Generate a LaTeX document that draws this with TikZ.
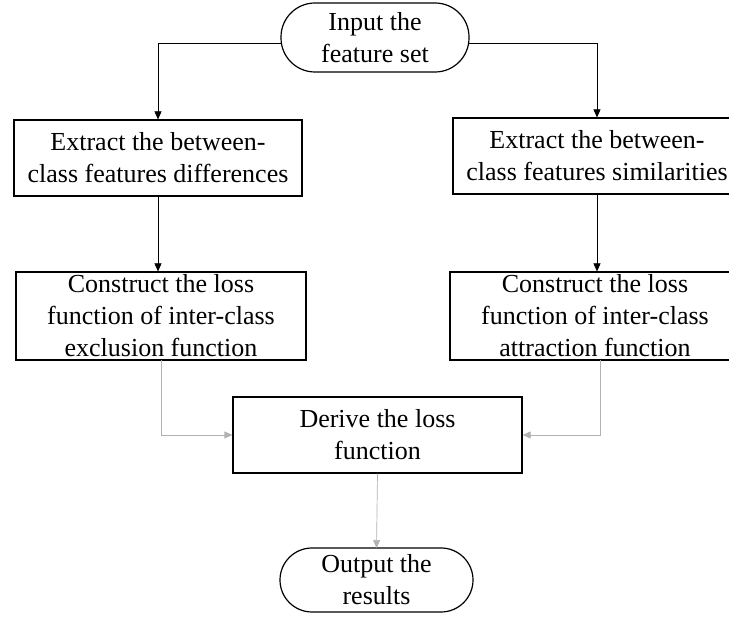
\documentclass[tikz,border=0pt]{standalone}
\usepackage{fontspec}
\setmainfont{Liberation Serif}
\usetikzlibrary{arrows.meta}
\begin{document}
\begin{tikzpicture}[x=1pt,y=1pt,
  txt/.style={font=\fontsize{26}{32}\selectfont, align=center, inner sep=0pt},
  procbox/.style={txt, draw, line width=1.2pt},
  termbox/.style={txt, draw, line width=1.2pt},
  conn/.style={line width=0.7pt, -{Triangle[length=8pt,width=7pt]}},
  gconn/.style={conn, draw=gray!60}]
\useasboundingbox (0,0) rectangle (729,-617);
\clip (0,0) rectangle (729,-617);
\draw[termbox, rounded corners=34pt] (281,-3) rectangle (469,-72);
\node[txt] (in) at (375,-37.5) {Input the\\feature set};
\coordinate (inW) at (281,-43);
\coordinate (inE) at (469,-43);
\node[procbox, minimum width=288pt, minimum height=76pt] (e1) at (158,-158) {Extract the between-\\class features differences};
\node[procbox, minimum width=288pt, minimum height=76pt] (e2) at (597,-156) {Extract the between-\\class features similarities};
\node[procbox, minimum width=290pt, minimum height=88pt] (c1) at (161,-316) {Construct the loss\\function of inter-class\\exclusion function};
\node[procbox, minimum width=290pt, minimum height=88pt] (c2) at (595,-316) {Construct the loss\\function of inter-class\\attraction function};
\node[procbox, minimum width=289pt, minimum height=76pt] (d) at (377.5,-435) {Derive the loss\\function};
\draw[termbox, rounded corners=32pt] (280,-548) rectangle (473,-612);
\node[txt] (out) at (376.5,-580) {Output the\\results};
\coordinate (outN) at (376.5,-548);
\draw[conn] (inW) -| (e1.north);
\draw[conn] (inE) -| (e2.north);
\draw[conn] (e1.south) -- (e1.south |- c1.north);
\draw[conn] (e2.south) -- (e2.south |- c2.north);
\coordinate (c1b) at (161,-360);
\coordinate (c2b) at (600,-360);
\draw[gconn] (c1b) |- (d.west);
\draw[gconn] (c2b) |- (d.east);
\draw[gconn] (d.south) -- (outN);
\end{tikzpicture}
\end{document}
